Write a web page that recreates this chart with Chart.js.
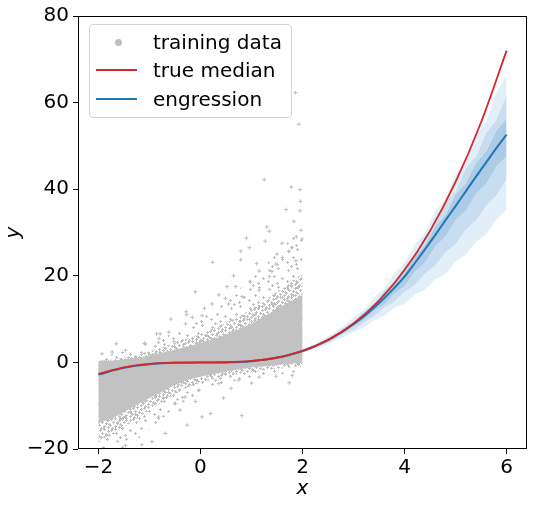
<!DOCTYPE html>
<html>
<head>
<meta charset="utf-8">
<script src="https://cdn.jsdelivr.net/npm/chart.js@4/dist/chart.umd.min.js"></script>
<style>
  body { margin:0; background:#fff; }
  #wrap { position:relative; width:533px; height:505px; }
  #legend { position:absolute; left:89px; top:24px; width:201px; height:92px; border:1px solid #d3d3d3; border-radius:4px;
            background:rgba(255,255,255,0.8); font-family:'DejaVu Sans'; font-size:20px; color:#000; }
  .row { position:absolute; left:0; height:28px; width:200px; }
  .row span { position:absolute; left:63px; top:2px; white-space:nowrap; }
  .row i { position:absolute; left:6px; top:13px; width:41px; height:2px; }
  .row b { position:absolute; left:25px; top:11px; width:7px; height:7px; border-radius:50%; background:#bfbfbf; }
</style>
</head>
<body>
<div id="wrap">
  <canvas id="c" width="533" height="505"></canvas>
  <div id="legend">
    <div class="row" style="top:3px"><b></b><span>training data</span></div>
    <div class="row" style="top:31px"><i style="background:#d62728"></i><span>true median</span></div>
    <div class="row" style="top:60px"><i style="background:#1f77b4"></i><span>engression</span></div>
  </div>
</div>
<script>
// training data cloud, drawn as nested bands (solid core, dense and sparse fringe)
const cloudX     = [-2,-1.75,-1.5,-1.25,-1,-0.75,-0.5,-0.25,0,0.25,0.5,0.75,1,1.25,1.5,1.75,2];
const coreLo     = [-14,-13,-11.5,-9.8,-8.2,-6.8,-5.2,-4.0,-3.3,-2.7,-2.1,-1.6,-1.2,-0.9,-0.6,-0.3,0];
const coreHi     = [0.3,0.4,0.7,1.1,1.6,2.2,2.9,3.7,4.5,5.4,6.4,7.6,9.0,10.6,12.4,14.0,15.5];
const denseLo    = [-18,-17,-15,-13,-11,-9.2,-7.3,-5.8,-4.7,-3.9,-3.2,-2.7,-2.2,-1.8,-1.5,-1.2,-1.0];
const denseHi    = [0.35,0.6,1.2,1.8,2.6,3.5,4.5,5.5,6.6,7.8,9.1,10.6,12.3,14.2,16.3,18.5,20.5];
const sparseLo   = [-21,-21,-20,-18,-15.5,-13,-10.6,-8.6,-7.0,-5.8,-4.9,-4.1,-3.5,-3.1,-2.8,-2.5,-2.3];
const sparseHi   = [1.2,1.8,2.6,3.4,4.4,5.6,7.0,8.6,10.4,12.3,14.4,16.8,19.4,22.2,25.2,28.2,31.0];

// training data: single points outside the cloud
const trainPts = [
  [1.86,62.3],[1.93,55.0],[1.25,42.2],[1.78,40.5],[1.95,39.9],[1.96,37.2],[1.95,35.0],[1.68,35.3],[1.83,32.6],[1.30,31.3],
  [1.35,30.3],[0.90,28.7],[1.27,28.0],[0.79,25.7],[0.96,26.5],[1.74,25.7],[1.80,26.5],[0.24,23.1],[0.79,23.7],[1.61,24.2],
  [1.87,23.5],[1.48,22.7],[1.15,21.1],[1.35,19.8],[0.98,18.6],[0.69,17.5],[0.52,17.5],[0.36,15.6],[1.15,16.7],[0.49,14.8],
  [0.82,15.2],[-0.10,16.3],[0.23,13.5],[0.08,12.5],[-0.28,11.7],[-0.27,11.0],[0.03,10.8],[-0.16,10.4],[-0.58,10.0],[-0.29,8.9],
  [-0.62,7.0],[-0.79,6.6],[-0.86,6.6],[-0.81,5.5],[-0.52,4.8],[-1.10,4.4],[-1.08,4.3],[-1.65,4.3],[-1.47,2.8],[-1.73,2.4],
  [-1.93,2.0],[1.99,28.5],[1.97,30.5],[1.88,29.0],[1.60,27.5],[1.50,25.0],[1.10,22.8],[1.40,21.0],[0.65,20.0],[0.55,13.5],
  [0.81,-12.3],[0.03,-12.6],[-0.26,-14.5],[0.20,-11.8],[1.74,-4.7],[-0.69,-16.4],[-0.95,-18.3],[-1.15,-19.0],[-1.47,-19.2],
  [-0.82,-12.6],[-0.49,-9.5],[-0.30,-8.0],[-0.03,-6.4],[0.36,-4.9],[0.75,-4.1],[1.15,-3.4],[1.48,-3.2],[1.80,-3.0],
  [0.60,-6.0],[1.00,-4.8],[-0.10,-9.0],[-0.40,-11.0],[0.45,-8.2]
];

// true median
const trueX = [-2,-1.5,-1,-0.5,0,0.5,1,1.5,2,2.5,3,3.5,4,4.5,5,5.5,6];
const trueY = [-2.67,-1.13,-0.33,-0.04,0,0.04,0.33,1.13,2.67,5.21,9.0,14.29,21.33,30.38,41.67,55.46,72.0];

// engression: median on the training range
const engLeftX = [-2,-1.5,-1,-0.5,0,0.5,1,1.5];
const engLeftY = [-2.8,-1.25,-0.42,-0.1,-0.05,0,0.28,1.05];

// engression: median and quantile bands outside the training range
const bandX   = [2.0,2.2,2.4,2.6,2.8,3.0,3.2,3.4,3.6,3.8,4.0,4.2,4.4,4.6,4.8,5.0,5.2,5.4,5.6,5.8,6.0];
const outerLo = [2.2,3.0,3.7,4.8,5.8,7.0,8.1,9.7,10.8,12.6,13.5,15.6,16.8,19.2,20.4,23.3,24.9,27.8,29.6,33.0,35.3];
const midLo   = [2.35,3.2,4.1,5.1,6.5,7.6,9.2,10.6,12.6,14.0,16.3,17.8,20.5,22.4,25.4,27.3,30.7,32.8,36.2,38.6,42.3];
const innerLo = [2.5,3.35,4.35,5.5,6.8,8.4,9.8,11.8,13.4,15.9,17.6,20.9,23.0,26.7,29.0,32.9,35.0,38.9,41.2,45.2,47.6];
const engMed  = [2.65,3.5,4.55,5.8,7.2,8.8,10.6,12.6,14.8,17.2,19.8,22.9,26.1,29.4,32.8,36.1,39.5,42.9,46.2,49.5,52.6];
const innerHi = [2.8,3.65,4.75,6.1,7.45,9.3,11.0,13.4,15.3,18.4,20.6,24.5,27.1,31.5,34.0,38.9,41.3,46.1,48.8,53.6,56.4];
const midHi   = [2.95,3.8,5.0,6.3,8.0,9.5,11.8,13.7,16.6,18.7,22.4,24.9,29.3,32.0,36.9,39.6,44.9,47.6,53.1,56.1,61.8];
const outerHi = [3.1,4.0,5.3,6.8,8.3,10.4,12.1,15.0,17.0,20.6,22.9,27.3,29.9,34.9,37.6,43.3,46.3,52.4,55.6,62.3,66.3];

const xTicks = [-2,0,2,4,6];
const yTicks = [-20,0,20,40,60,80];

const pts = (xs, ys) => xs.map((x,i)=>({x, y:ys[i]}));
const minus = v => String(v).replace('-', '\u2212');

// speckle textures made of small '+' markers
function crossPattern(size, spots){
  const c = document.createElement('canvas'); c.width = size; c.height = size;
  const g = c.getContext('2d'); g.fillStyle = '#bfbfbf';
  spots.forEach(([x,y])=>{
    [-size,0,size].forEach(dx=>[-size,0,size].forEach(dy=>{
      g.fillRect(x+dx-1, y+dy, 3, 1); g.fillRect(x+dx, y+dy-1, 1, 3);
    }));
  });
  return g.createPattern(c, 'repeat');
}
const DENSE = crossPattern(11, [[1,1],[5,0],[9,2],[3,4],[7,5],[0,7],[5,8],[9,9],[2,10],[10,6]]);
const SPARSE = crossPattern(19, [[3,4],[12,2],[8,10],[16,12],[2,15],[11,17],[6,0]]);

const OUTER = '#e2eef8', MID = '#c8ddef', INNER = '#abcbe6';
const edge = (data, order) => ({type:'line', data, borderWidth:0, pointRadius:0, fill:false, order});
const band = (data, color, order) => ({type:'line', data, fill:'-1', backgroundColor:color, borderWidth:0, pointRadius:0, tension:0, order});

const datasets = [
  edge(pts(cloudX, sparseLo), 30), band(pts(cloudX, sparseHi), SPARSE, 29),
  edge(pts(cloudX, denseLo), 28),  band(pts(cloudX, denseHi), DENSE, 27),
  edge(pts(cloudX, coreLo), 26),   band(pts(cloudX, coreHi), '#c2c2c2', 25),
  {type:'scatter', data:trainPts.map(p=>({x:p[0], y:p[1]})), pointStyle:'cross', pointRadius:2, borderWidth:1,
   borderColor:'#bfbfbf', backgroundColor:'#bfbfbf', order:24},
  edge(pts(bandX, outerLo), 10),
  band(pts(bandX, midLo), OUTER, 9),
  band(pts(bandX, innerLo), MID, 8),
  band(pts(bandX, engMed), INNER, 7),
  band(pts(bandX, innerHi), INNER, 6),
  band(pts(bandX, midHi), MID, 5),
  band(pts(bandX, outerHi), OUTER, 4),
  {type:'line', data:pts(engLeftX.concat(bandX), engLeftY.concat(engMed)), borderColor:'#1f77b4', borderWidth:2,
   pointRadius:0, fill:false, cubicInterpolationMode:'monotone', order:2},
  {type:'line', data:pts(trueX, trueY), borderColor:'#d62728', borderWidth:1.8, pointRadius:0, fill:false,
   cubicInterpolationMode:'monotone', order:1}
];

const frame = {
  id:'frame',
  afterDraw(chart){
    const a = chart.chartArea, ctx = chart.ctx;
    ctx.save(); ctx.strokeStyle = '#000'; ctx.lineWidth = 1;
    ctx.strokeRect(Math.round(a.left)+0.5, Math.round(a.top)+0.5, Math.round(a.right-a.left)-1, Math.round(a.bottom-a.top)-1);
    ctx.restore();
  }
};

Chart.defaults.font.family = 'DejaVu Sans';
Chart.defaults.font.size = 20;
Chart.defaults.color = '#000';

new Chart(document.getElementById('c'), {
  type:'line',
  data:{datasets},
  options:{
    responsive:false, animation:false, devicePixelRatio:1,
    layout:{padding:{top:14, right:6, left:0, bottom:0}},
    plugins:{legend:{display:false}, tooltip:{enabled:false}},
    scales:{
      x:{type:'linear', min:-2.4, max:6.4,
         afterBuildTicks: s => { s.ticks = xTicks.map(v=>({value:v})); },
         afterFit: s => { s.height = 56; },
         ticks:{callback:minus, padding:2, maxRotation:0, autoSkip:false},
         grid:{drawOnChartArea:false, drawTicks:true, tickLength:5, tickColor:'#000'},
         border:{display:false},
         title:{display:true, text:'x', font:{size:20, style:'italic'}, padding:{top:0, bottom:4}}},
      y:{type:'linear', min:-20, max:80,
         afterBuildTicks: s => { s.ticks = yTicks.map(v=>({value:v})); },
         afterFit: s => { s.width = 78; },
         ticks:{callback:minus, padding:4},
         grid:{drawOnChartArea:false, drawTicks:true, tickLength:5, tickColor:'#000'},
         border:{display:false},
         title:{display:true, text:'y', font:{size:20, style:'italic'}, padding:{top:2, bottom:0}}}
    }
  },
  plugins:[frame]
});
</script>
</body>
</html>
